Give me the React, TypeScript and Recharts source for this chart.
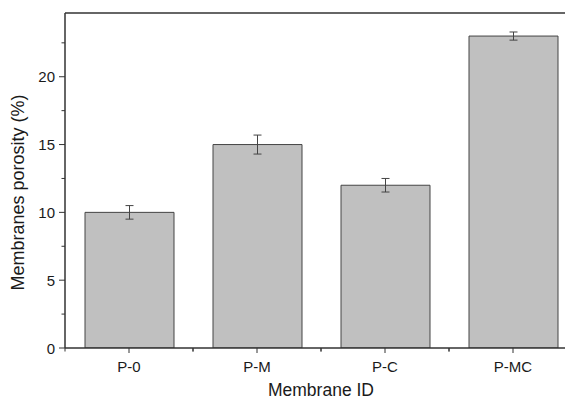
import React from 'react';
import { BarChart, Bar, XAxis, YAxis, ErrorBar, ReferenceLine } from 'recharts';

const categories = ['P-0', 'P-M', 'P-C', 'P-MC'];
const porosity = [10, 15, 12, 23];
const errors = [0.5, 0.7, 0.5, 0.3];
const yTicks = [0, 2.5, 5, 7.5, 10, 12.5, 15, 17.5, 20, 22.5];
const yMajor = [0, 5, 10, 15, 20];
const Y_MAX = 24.7;

const data = categories.map((c, i) => ({ name: c, value: porosity[i], err: errors[i] }));

const AXIS = '#333333';
const TEXT = '#1a1a1a';
const FONT = 'Liberation Sans, Arial, sans-serif';

const YTick = (props: any) => {
  const { x, y, payload } = props;
  const major = yMajor.includes(payload.value);
  return (
    <g>
      <line x1={x} x2={x - (major ? 6 : 3.5)} y1={y} y2={y} stroke={AXIS} strokeWidth={1} />
      {major && (
        <text x={x - 10} y={y} dy={5.5} textAnchor="end" fontSize={15} fill={TEXT} fontFamily={FONT}>
          {payload.value}
        </text>
      )}
    </g>
  );
};

const XTick = (props: any) => {
  const { x, y, payload } = props;
  const half = 64;
  return (
    <g>
      <line x1={x} x2={x} y1={y} y2={y + 5} stroke={AXIS} strokeWidth={1} />
      <line x1={x - half} x2={x - half} y1={y} y2={y + 3.5} stroke={AXIS} strokeWidth={1} />
      <line x1={x + half} x2={x + half} y1={y} y2={y + 3.5} stroke={AXIS} strokeWidth={1} />
      <text x={x} y={y + 24} textAnchor="middle" fontSize={15} fill={TEXT} fontFamily={FONT}>
        {payload.value}
      </text>
    </g>
  );
};

export default function App() {
  return (
    <div style={{ position: 'absolute', left: 0, top: 0, width: 565, height: 399, overflow: 'hidden', background: '#fff' }}>
      <BarChart
        width={600}
        height={399}
        data={data}
        margin={{ top: 13, right: 23, left: 0, bottom: 0 }}
        barCategoryGap={0}
      >
        <XAxis
          dataKey="name"
          height={51}
          tickSize={0}
          tickMargin={0}
          tick={<XTick />}
          axisLine={{ stroke: AXIS, strokeWidth: 1.5 }}
          tickLine={false}
          interval={0}
          label={{ value: 'Membrane ID', position: 'insideBottom', offset: 3, fontSize: 17.5, fill: TEXT, fontFamily: FONT }}
        />
        <YAxis
          width={65}
          domain={[0, Y_MAX]}
          ticks={yTicks}
          interval={0}
          tickSize={0}
          tickMargin={0}
          tick={<YTick />}
          tickLine={false}
          axisLine={{ stroke: AXIS, strokeWidth: 1.5 }}
          allowDataOverflow
          label={{ value: 'Membranes porosity (%)', angle: -90, position: 'insideLeft', dx: 13, dy: 12, fontSize: 18, fill: TEXT, fontFamily: FONT, style: { textAnchor: 'middle' } }}
        />
        <ReferenceLine y={Y_MAX} stroke={AXIS} strokeWidth={1.5} />
        <Bar dataKey="value" fill="#c0c0c0" stroke="#444444" strokeWidth={1} barSize={89} isAnimationActive={false}>
          <ErrorBar dataKey="err" width={4} stroke="#444444" strokeWidth={1} direction="y" />
        </Bar>
      </BarChart>
    </div>
  );
}
